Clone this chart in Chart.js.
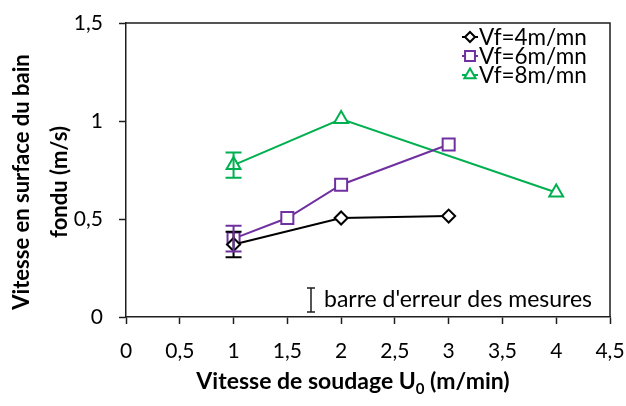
<!DOCTYPE html>
<html>
<head>
<meta charset="utf-8">
<script src="https://cdn.jsdelivr.net/npm/chart.js@4.4.0/dist/chart.umd.min.js"></script>
<style>
  html, body { margin: 0; padding: 0; background: #fff; }
</style>
</head>
<body>
<canvas id="myChart" width="626" height="406"></canvas>
<script>
// Vitesse de soudage U0 (m/min) -> vitesse en surface du bain (m/s)
const u4 = [1, 2, 3];
const v4 = [0.37, 0.505, 0.515];
const err4 = [0.065, 0, 0];

const u6 = [1, 1.5, 2, 3];
const v6 = [0.40, 0.505, 0.675, 0.88];
const err6 = [0.066, 0, 0, 0];

const u8 = [1, 2, 4];
const v8 = [0.775, 1.01, 0.635];
const err8 = [0.064, 0, 0];

const seriesNames = ['Vf=4m/mn', 'Vf=6m/mn', 'Vf=8m/mn'];
const xTicks = [0, 0.5, 1, 1.5, 2, 2.5, 3, 3.5, 4, 4.5];
const yTicks = [0, 0.5, 1, 1.5];

const FONT = 'Lato';
const AXIS = '#1e1e1e';

const fmt = v => String(v).replace('.', ',');
const pts = (xs, ys) => xs.map((x, i) => ({ x: x, y: ys[i] }));

function makeSet(label, xs, ys, errs, color, style, radius) {
  return {
    label: label,
    data: pts(xs, ys),
    errorBars: errs,
    borderColor: color,
    backgroundColor: color,
    borderWidth: 2,
    tension: 0,
    pointStyle: style,
    pointRadius: radius,
    pointBorderWidth: 2,
    pointBackgroundColor: '#fff',
    pointBorderColor: color,
  };
}

const datasets = [
  makeSet(seriesNames[0], u4, v4, err4, '#000000', 'rectRot', 6.5),
  makeSet(seriesNames[1], u6, v6, err6, '#7030a0', 'rect', 8.5),
  makeSet(seriesNames[2], u8, v8, err8, '#00b050', 'triangle', 8),
];

// cadre, barres d'erreur, légende, annotation et titres d'axes
const decor = {
  id: 'decor',
  afterDatasetsDraw(chart) {
    const { ctx, chartArea: a, scales: { x, y } } = chart;
    ctx.save();

    ctx.strokeStyle = AXIS;
    ctx.lineWidth = 1.5;
    ctx.beginPath();
    ctx.moveTo(a.left, a.top);
    ctx.lineTo(a.right, a.top);
    ctx.lineTo(a.right, a.bottom);
    ctx.stroke();

    const bar = (px, top, bottom, half, color, w) => {
      ctx.strokeStyle = color;
      ctx.lineWidth = w;
      ctx.beginPath();
      ctx.moveTo(px, top); ctx.lineTo(px, bottom);
      ctx.moveTo(px - half, top); ctx.lineTo(px + half, top);
      ctx.moveTo(px - half, bottom); ctx.lineTo(px + half, bottom);
      ctx.stroke();
    };

    chart.data.datasets.forEach(ds => {
      ds.data.forEach((p, j) => {
        const e = ds.errorBars[j];
        if (!e) return;
        bar(x.getPixelForValue(p.x), y.getPixelForValue(p.y + e),
            y.getPixelForValue(p.y - e), 8, ds.borderColor, 2);
      });
    });

    // légende
    ctx.font = '22.5px ' + FONT;
    ctx.textBaseline = 'middle';
    ctx.textAlign = 'left';
    chart.data.datasets.forEach((ds, i) => {
      const cy = 37 + i * 19;
      const cx = 470;
      ctx.strokeStyle = ds.borderColor;
      ctx.lineWidth = 2;
      ctx.beginPath();
      ctx.moveTo(cx - 8, cy); ctx.lineTo(cx + 8, cy);
      ctx.stroke();
      ctx.fillStyle = '#fff';
      Chart.helpers.drawPoint(ctx, {
        pointStyle: ds.pointStyle, radius: ds.pointRadius - 1.5,
        rotation: 0, borderWidth: 2
      }, cx, cy);
      ctx.fillStyle = '#000';
      ctx.fillText(ds.label, 479, cy + 1);
    });

    // annotation
    bar(311, 288, 312, 4, AXIS, 1.5);
    ctx.fillStyle = '#000';
    ctx.font = '23px ' + FONT;
    ctx.fillText("barre d'erreur des mesures", 324, 300);

    // titre de l'axe X avec indice
    const big = 'bold 23px ' + FONT;
    const small = 'bold 15px ' + FONT;
    ctx.font = big;
    const t1 = 'Vitesse de soudage U';
    const t2 = '0';
    const t3 = ' (m/min)';
    const w1 = ctx.measureText(t1).width;
    const w3 = ctx.measureText(t3).width;
    ctx.font = small;
    const w2 = ctx.measureText(t2).width;
    const sx = 353 - (w1 + w2 + w3) / 2;
    const by = 382;
    ctx.font = big;
    ctx.fillText(t1, sx, by);
    ctx.font = small;
    ctx.fillText(t2, sx + w1, by + 7);
    ctx.font = big;
    ctx.fillText(t3, sx + w1 + w2, by);

    // titre de l'axe Y sur deux lignes
    ctx.font = 'bold 22px ' + FONT;
    ctx.translate(0, 182);
    ctx.rotate(-Math.PI / 2);
    ctx.textAlign = 'center';
    ctx.fillText('Vitesse en surface du bain', 0, 22);
    ctx.fillText('fondu (m/s)', 0, 60);

    ctx.restore();
  }
};

// pas de marge automatique pour les libellés des graduations
const noPad = s => {
  s.paddingLeft = 0; s.paddingRight = 0;
  s.paddingTop = 0; s.paddingBottom = 0;
};

new Chart(document.getElementById('myChart'), {
  type: 'line',
  data: { datasets: datasets },
  plugins: [decor],
  options: {
    responsive: false,
    animation: false,
    layout: { padding: { left: 0, right: 16, top: 23, bottom: 0 } },
    plugins: { legend: { display: false }, tooltip: { enabled: false } },
    scales: {
      x: {
        type: 'linear',
        min: 0,
        max: 4.5,
        afterFit: s => { s.height = 89; noPad(s); },
        afterBuildTicks: s => { s.ticks = xTicks.map(v => ({ value: v })); },
        grid: { drawOnChartArea: false, tickLength: 7, tickColor: AXIS, tickWidth: 1.5 },
        border: { color: AXIS, width: 1.5 },
        ticks: { color: '#000', padding: 15, font: { family: FONT, size: 21 }, callback: v => fmt(v) },
      },
      y: {
        min: 0,
        max: 1.5,
        afterFit: s => { s.width = 126; noPad(s); },
        afterBuildTicks: s => { s.ticks = yTicks.map(v => ({ value: v })); },
        grid: { drawOnChartArea: false, tickLength: 7, tickColor: AXIS, tickWidth: 1.5 },
        border: { color: AXIS, width: 1.5 },
        ticks: { color: '#000', padding: 16, font: { family: FONT, size: 21 }, callback: v => fmt(v) },
      },
    },
  },
});
</script>
</body>
</html>
